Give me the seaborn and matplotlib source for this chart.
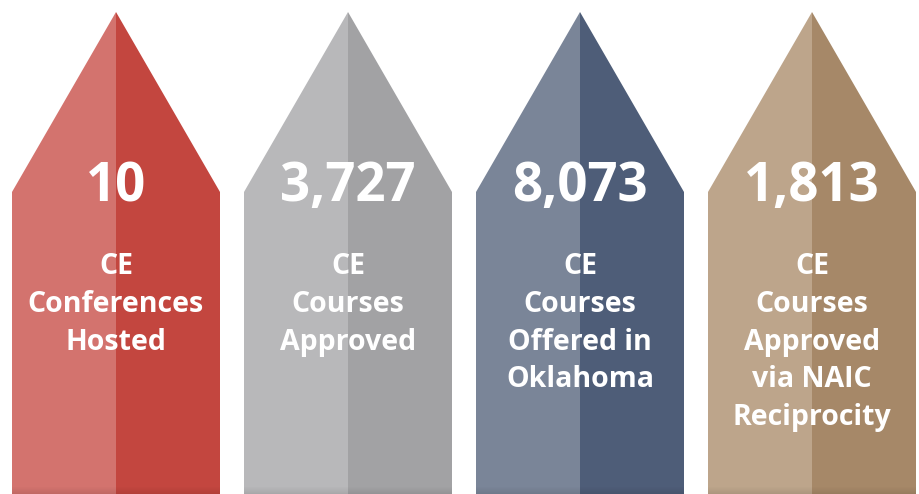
import matplotlib
matplotlib.use('Agg')
import matplotlib.pyplot as plt
import seaborn as sns
import numpy as np

sns.set_theme(style='white')
plt.rcParams['font.family'] = ['Open Sans', 'DejaVu Sans']

# data
values = ["10", "3,727", "8,073", "1,813"]
labels = [
    "CE\nConferences\nHosted",
    "CE\nCourses\nApproved",
    "CE\nCourses\nOffered in\nOklahoma",
    "CE\nCourses\nApproved\nvia NAIC\nReciprocity",
]
light_colors = ["#D3736E", "#B8B8BA", "#7A8598", "#BDA58B"]
dark_colors = ["#C3463F", "#A2A2A4", "#4E5D78", "#A68868"]

W, H = 920, 494
fig = plt.figure(figsize=(9.2, 4.94), dpi=100)
ax = fig.add_axes([0, 0, 1, 1])
ax.set_xlim(0, W)
ax.set_ylim(H, 0)
ax.axis('off')

step, half = 232, 104
tip_y, shoulder_y = 12, 192

for i, (val, lab) in enumerate(zip(values, labels)):
    cx = 116 + step * i
    # left half (lighter)
    ax.fill([cx - half, cx - half, cx, cx], [H, shoulder_y, tip_y, H],
            color=light_colors[i], lw=0)
    # right half (darker)
    ax.fill([cx, cx, cx + half, cx + half], [H, tip_y, shoulder_y, H],
            color=dark_colors[i], lw=0)
    # faint shadow at the bottom
    for k in range(8):
        ax.fill_between([cx - half, cx + half], H - 8 + k, H - 7 + k,
                        color='black', alpha=0.012 * k, lw=0)
    ax.text(cx, 187, val, color='white', fontsize=38, fontweight='bold',
            ha='center', va='center')
    ax.text(cx, 252, lab, color='white', fontsize=20.5, fontweight='bold',
            ha='center', va='top', linespacing=1.4)

fig.savefig('out.png', dpi=100)
